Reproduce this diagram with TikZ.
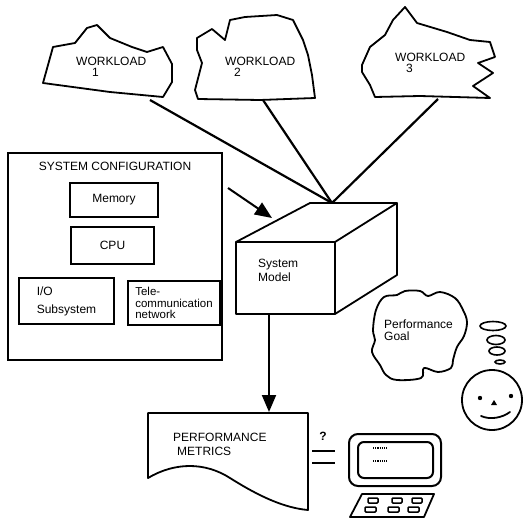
\documentclass[tikz,border=0pt]{standalone}
\usepackage{fontspec}
\setmainfont{Liberation Sans}
\usetikzlibrary{arrows.meta}

\begin{document}
\begin{tikzpicture}[x=1pt, y=-1pt,
    outline/.style={line width=1.8pt, line join=round},
    box/.style={draw, line width=1.8pt},
    lbl/.style={font=\fontsize{12}{12}\selectfont, inner sep=0pt, align=left},
    feed/.style={line width=2.2pt},
    bigarrow/.style={line width=2pt, -{Triangle[length=17pt,width=14pt]}}]
    \useasboundingbox (0,0) rectangle (528,519);

    % Workload clouds
    \draw[outline] (43,83) -- (53,47) -- (75,43) -- (87,28) -- (97,25) -- (110,38) -- (132,47)
        -- (147,52) -- (163,47) -- (172,64) -- (172,82) -- (163,97) -- (110,92) -- cycle;
    \draw[outline] (197,38) -- (212,29) -- (225,40) -- (230,20) -- (245,17) -- (277,15) -- (293,20)
        -- (303,40) -- (308,55) -- (312,75) -- (315,98) -- (260,100) -- (198,99) -- (195,90)
        -- (202,63) -- (197,50) -- cycle;
    \draw[outline] (362,65) -- (370,47) -- (385,35) -- (393,20) -- (405,7) -- (417,23) -- (447,32)
        -- (470,40) -- (490,42) -- (495,57) -- (478,63) -- (493,73) -- (473,86) -- (490,98)
        -- (420,96) -- (375,97) -- (370,85) -- (362,72) -- cycle;
    \node[lbl, anchor=west] (wl1) at (76,67) {WORKLOAD\\[-1pt]\hspace*{16pt}1};
    \node[lbl, anchor=west] (wl2) at (225,67) {WORKLOAD\\[-1pt]\hspace*{9pt}2};
    \node[lbl, anchor=west] (wl3) at (395,63) {WORKLOAD\\[-1pt]\hspace*{11pt}3};

    % Model cube
    \coordinate (ftl) at (236,242);
    \coordinate (ftr) at (335,242);
    \coordinate (fbr) at (335,314);
    \coordinate (btl) at (310,203);
    \coordinate (btr) at (397,203);
    \coordinate (bbr) at (397,275);
    \draw[outline] (ftl) rectangle (fbr);
    \draw[outline] (ftl) -- (btl) -- (btr) -- (ftr);
    \draw[outline] (btr) -- (bbr) -- (fbr);
    \node[lbl, anchor=west, font=\fontsize{12}{14}\selectfont] (model) at (258,270) {System\\Model};

    % Workloads feed the model
    \coordinate (apex) at (332,203);
    \coordinate (w1) at (150,100);
    \coordinate (w2) at (263,100);
    \coordinate (w3) at (438,99);
    \draw[feed] (w1) -- (apex);
    \draw[feed] (w2) -- (apex);
    \draw[feed] (w3) -- (apex);

    % System configuration
    \node[box, minimum width=214, minimum height=207] (config) at (115,256.5) {};
    \node[lbl] (cfgtitle) at (115,166) {SYSTEM CONFIGURATION};
    \node[box, lbl, minimum width=88, minimum height=34] (memory) at (114,200) {Memory};
    \node[box, lbl, minimum width=83, minimum height=37] (cpu) at (112.5,245.5) {CPU};
    \node[box, lbl, minimum width=95, minimum height=46, font=\fontsize{12}{18}\selectfont]
        (io) at (66.5,301) {I/O\\Subsystem};
    \node[box, lbl, minimum width=92, minimum height=44, font=\fontsize{11.5}{11.5}\selectfont]
        (tele) at (174,303) {Tele-\\communication\\network};

    \coordinate (cfgout) at (228,188);
    \coordinate (modelin) at (272,218);
    \draw[bigarrow] (cfgout) -- (modelin);

    % Metrics sheet
    \draw[outline] (148,413) -- (308,413) -- (308,510)
        .. controls (285,508) and (260,497) .. (230,478)
        .. controls (205,462) and (175,462) .. (148,478) -- cycle;
    \node[lbl, anchor=west, font=\fontsize{12}{14}\selectfont] (metrics) at (173,444)
        {PERFORMANCE\\\hspace*{4pt}METRICS};
    \coordinate (modelout) at (269,314);
    \coordinate (metricsin) at (269,412);
    \draw[bigarrow] (modelout) -- (metricsin);

    % Compare with goal
    \node[lbl] (ask) at (323,436) {\textbf{?}};
    \draw[line width=2pt] (312,451) -- (335,451);
    \draw[line width=2pt] (312,463) -- (335,463);

    % Terminal
    \draw[line width=2pt, rounded corners=9pt] (349,434) rectangle (441,486);
    \draw[line width=2pt, rounded corners=6pt] (358,442) rectangle (433,478);
    \draw[line width=1.3pt, dash pattern=on 1.2pt off 1pt] (373,448) -- (388,448);
    \draw[line width=1.3pt, dash pattern=on 1.2pt off 1pt] (373,461) -- (388,461);
    \draw[outline] (362,494) -- (434,494) -- (424,517) -- (350,517) -- cycle;
    \foreach \kx in {368,392,412}
        \draw[line width=1.5pt, rounded corners=1pt] (\kx,498) rectangle ++(10,5);
    \foreach \kx in {365,388,408}
        \draw[line width=1.5pt, rounded corners=1pt] (\kx,507) rectangle ++(11,5);

    % Goal cloud
    \draw[outline] plot[smooth cycle, tension=0.6] coordinates {
        (373,330) (376,310) (384,297) (397,295) (405,291) (420,291) (428,296) (440,292)
        (455,298) (463,310) (467,322) (464,336) (457,347) (453,360) (451,368) (438,372)
        (424,368) (421,378) (397,380) (386,375) (380,365) (372,352) (375,340)};
    \node[lbl, anchor=west] (goal) at (384,330) {Performance\\Goal};

    % Thinking face
    \draw[line width=1.6pt] (493,326) ellipse [x radius=13pt, y radius=4.5pt];
    \draw[line width=1.6pt] (496,340) ellipse [x radius=9pt, y radius=4.5pt];
    \draw[line width=1.6pt] (497,351) ellipse [x radius=8pt, y radius=4pt];
    \draw[line width=1.6pt] (500,362) ellipse [x radius=5pt, y radius=2pt];
    \draw[line width=1.8pt] (492,400) circle [radius=30pt];
    \fill (480,398) circle [radius=2.2pt];
    \fill (511,396) circle [radius=2.2pt];
    \fill (491,405) -- (497,405) -- (494,400) -- cycle;
    \draw[line width=1.8pt, line cap=round] (481,416) .. controls (490,420) and (502,418) .. (510,412);
\end{tikzpicture}
\end{document}
